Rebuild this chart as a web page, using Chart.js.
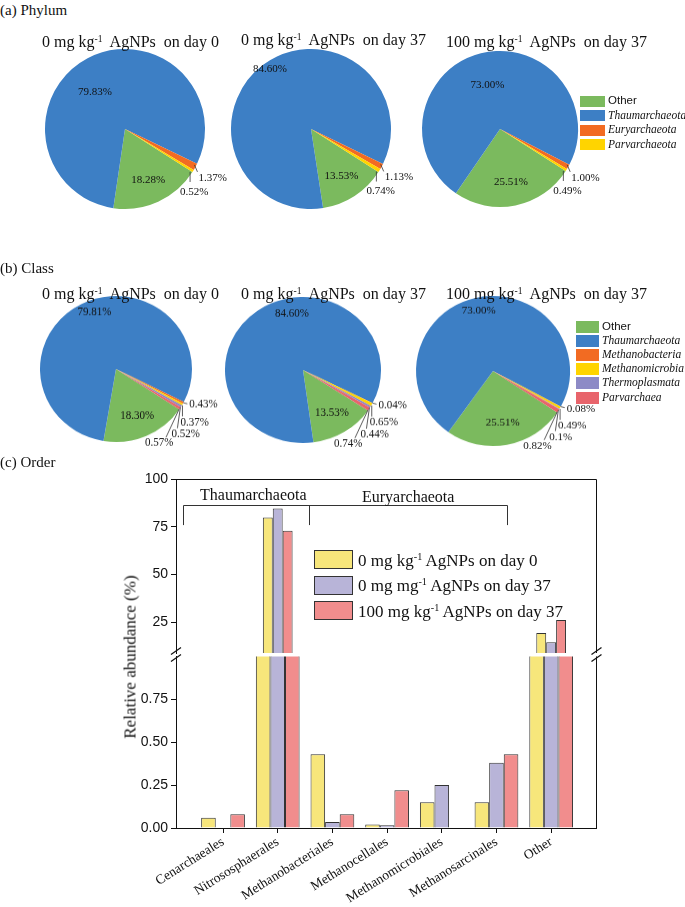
<!DOCTYPE html>
<html>
<head>
<meta charset="utf-8">
<script src="https://cdn.jsdelivr.net/npm/chart.js@4.4.1/dist/chart.umd.min.js"></script>
<style>
html,body{margin:0;padding:0;background:#fff;}
#fig{position:relative;width:685px;height:907px;overflow:hidden;font-family:"Liberation Serif","Times New Roman",serif;color:#111;}
#fig canvas{position:absolute;}
.t{position:absolute;white-space:pre;line-height:1;}
.sec{font-size:15px;}
.ttl{font-size:16px;}
.ttl sup,.blab sup{font-size:0.6em;vertical-align:0;position:relative;top:-0.55em;}
.box{position:absolute;box-sizing:border-box;}
.plab{position:absolute;white-space:nowrap;font-size:11.5px;font-style:italic;line-height:1;}
.plab.sans{font-family:"Liberation Sans",Arial,sans-serif;font-style:normal;}
.blab{position:absolute;white-space:pre;font-size:17px;line-height:1;}
</style>
</head>
<body>
<div id="fig">
  <canvas id="p1"></canvas><canvas id="p2"></canvas><canvas id="p3"></canvas>
  <canvas id="c1"></canvas><canvas id="c2"></canvas><canvas id="c3"></canvas>

  <div class="t sec" style="left:0;top:3px;">(a) Phylum</div>
  <div class="t sec" style="left:0;top:261px;">(b) Class</div>
  <div class="t sec" style="left:0;top:455px;">(c) Order</div>

  <div class="t ttl" style="left:42px;top:34px;">0 mg kg<sup>-1</sup>  AgNPs  on day 0</div>
  <div class="t ttl" style="left:241px;top:32px;">0 mg kg<sup>-1</sup>  AgNPs  on day 37</div>
  <div class="t ttl" style="left:446px;top:34px;">100 mg kg<sup>-1</sup>  AgNPs  on day 37</div>

  <div class="t ttl" style="left:42px;top:286px;">0 mg kg<sup>-1</sup>  AgNPs  on day 0</div>
  <div class="t ttl" style="left:241px;top:286px;">0 mg kg<sup>-1</sup>  AgNPs  on day 37</div>
  <div class="t ttl" style="left:446px;top:286px;">100 mg kg<sup>-1</sup>  AgNPs  on day 37</div>

  <div id="legP"></div>
  <div id="legC"></div>

  <canvas id="barTop" width="510" height="202" style="left:100px;top:465px;"></canvas>
  <canvas id="barBot" width="510" height="267" style="left:100px;top:640px;"></canvas>

  <div class="t" style="left:200px;top:487px;font-size:16px;">Thaumarchaeota</div>
  <div class="t" style="left:362px;top:489px;font-size:16px;">Euryarchaeota</div>
  <div class="t" style="left:130px;top:657px;font-size:17px;transform:translate(-50%,-50%) rotate(-90deg);">Relative abundance (%)</div>
  <div id="legB"></div>
</div>
<script>
// ---------- data ----------
const phylumNames = ['Other', 'Thaumarchaeota', 'Euryarchaeota', 'Parvarchaeota'];
const phylumDay0 = ['18.28', '79.83', '1.37', '0.52'];
const phylumCtrl37 = ['13.53', '84.60', '1.13', '0.74'];
const phylumAg37 = ['25.51', '73.00', '1.00', '0.49'];

const classNames = ['Other', 'Thaumarchaeota', 'Methanobacteria', 'Methanomicrobia', 'Thermoplasmata', 'Parvarchaea'];
const classDay0 = ['18.30', '79.81', '0.43', '0.37', '0.52', '0.57'];
const classCtrl37 = ['13.53', '84.60', '0.04', '0.65', '0.44', '0.74'];
const classAg37 = ['25.51', '73.00', '0.08', '0.49', '0.1', '0.82'];

const orderCategories = ['Cenarchaeales', 'Nitrososphaerales', 'Methanobacteriales', 'Methanocellales', 'Methanomicrobiales', 'Methanosarcinales', 'Other'];
const orderDay0 = [0.06, 79.83, 0.43, 0.02, 0.15, 0.15, 19.4];
const orderCtrl37 = [0, 84.60, 0.035, 0.016, 0.25, 0.38, 14.6];
const orderAg37 = [0.08, 73.00, 0.08, 0.22, 0, 0.43, 26.3];
const orderSeries = ['0 mg kg<sup>-1</sup> AgNPs on day 0', '0 mg mg<sup>-1</sup> AgNPs on day 37', '100 mg kg<sup>-1</sup> AgNPs on day 37'];

const upperTicks = [25, 50, 75, 100];
const lowerTicks = [0, 0.25, 0.5, 0.75];

// ---------- styles ----------
const PIE_COLORS = ['#7bba5e', '#3d7fc5', '#f26b22', '#ffd400', '#8d8ac6', '#e8646b'];
const BAR_COLORS = ['#f7e67b', '#b8b4d8', '#f18d8d'];
const INK = '#111';

// ---------- pies ----------
const pieLabelPlugin = {
  id: 'pieLabels',
  afterDatasetsDraw(chart) {
    const cfg = chart.data.datasets[0].pieCfg;
    const sy = cfg.sy || 1;
    const ctx = chart.ctx;
    const meta = chart.getDatasetMeta(0);
    const text = (t, x, y, align) => {
      ctx.save();
      ctx.translate(x, y);
      ctx.scale(1, 1 / sy);
      ctx.textAlign = align;
      ctx.textBaseline = 'middle';
      ctx.fillText(t, 0, 0);
      ctx.restore();
    };
    ctx.save();
    ctx.font = '11px "Liberation Serif", serif';
    ctx.fillStyle = INK;
    ctx.strokeStyle = '#333';
    ctx.lineWidth = 0.8;
    meta.data.forEach((arc, i) => {
      const p = arc.getProps(['x', 'y', 'startAngle', 'endAngle', 'outerRadius'], true);
      const mid = (p.startAngle + p.endAngle) / 2;
      const txt = cfg.texts[i];
      if (i < 2) {
        const k = i === 0 ? 0.7 : cfg.blueK;
        const a = mid + (i === 1 ? cfg.blueShift * Math.PI / 180 : 0);
        text(txt, p.x + Math.cos(a) * p.outerRadius * k, p.y + Math.sin(a) * p.outerRadius * k, 'center');
      } else {
        const rx = p.x + Math.cos(mid) * p.outerRadius;
        const ry = p.y + Math.sin(mid) * p.outerRadius;
        const s = cfg.small[i - 2];
        ctx.beginPath();
        ctx.moveTo(rx + s[0], ry + s[1] / sy);
        ctx.lineTo(rx + s[2], ry + s[3] / sy);
        ctx.stroke();
        text(txt, rx + s[4], ry + s[5] / sy, 'left');
      }
    });
    ctx.restore();
  }
};

const phylumSmall = [[-1, -2, 2, 5, 3, 11], [-3, 1, -3, 11, -13, 21]];
const classSmall = [[0, 0, 4, 1, 6, 2], [0, 1, 0, 12, -2, 18], [-1, 1, -4, 22, -10, 28], [-1, 1, -14, 29, -35, 35]];

function pieChart(id, names, vals, cfg) {
  const el = document.getElementById(id);
  el.width = 240; el.height = 200;
  el.style.left = (cfg.cx - 120) + 'px';
  el.style.top = (cfg.cy - 100) + 'px';
  if (cfg.sy) el.style.transform = `scaleY(${cfg.sy})`;
  new Chart(el, {
    type: 'pie',
    data: {
      labels: names,
      datasets: [{
        data: vals.map(Number),
        backgroundColor: PIE_COLORS.slice(0, names.length),
        borderWidth: 0, hoverOffset: 0,
        pieCfg: Object.assign({ texts: vals.map(v => v + '%') }, cfg)
      }]
    },
    options: {
      responsive: false, animation: false, events: [],
      rotation: cfg.rotation, radius: cfg.r,
      layout: { padding: 0 },
      plugins: { legend: { display: false }, tooltip: { enabled: false } }
    },
    plugins: [pieLabelPlugin]
  });
}

pieChart('p1', phylumNames, phylumDay0, { cx: 125, cy: 129, r: 80, rotation: 122.6, blueK: 0.6, blueShift: -11, small: phylumSmall });
pieChart('p2', phylumNames, phylumCtrl37, { cx: 311, cy: 129, r: 80, rotation: 122.6, blueK: 0.91, blueShift: 2, small: phylumSmall });
pieChart('p3', phylumNames, phylumAg37, { cx: 500, cy: 129, r: 78, rotation: 122.6, blueK: 0.58, blueShift: -2, small: phylumSmall });
pieChart('c1', classNames, classDay0, { cx: 116, cy: 369, r: 76, sy: 0.96, rotation: 123.6, blueK: 0.83, blueShift: 7, small: classSmall });
pieChart('c2', classNames, classCtrl37, { cx: 303, cy: 370, r: 78, sy: 0.936, rotation: 123.6, blueK: 0.78, blueShift: 25, small: classSmall });
pieChart('c3', classNames, classAg37, { cx: 493, cy: 371, r: 77, sy: 0.974, rotation: 123.6, blueK: 0.82, blueShift: 0, small: classSmall });

function pieLegend(hostId, names, left, top, pitch, bw, bh) {
  const host = document.getElementById(hostId);
  names.forEach((n, i) => {
    const cy = top + i * pitch;
    const b = document.createElement('div');
    b.className = 'box';
    b.style.cssText = `left:${left}px;top:${cy - bh / 2}px;width:${bw}px;height:${bh}px;background:${PIE_COLORS[i]};`;
    host.appendChild(b);
    const l = document.createElement('div');
    l.className = 'plab' + (n === 'Other' ? ' sans' : '');
    l.style.left = (left + bw + 3) + 'px';
    l.style.top = (cy - 6) + 'px';
    l.textContent = n;
    host.appendChild(l);
  });
}
pieLegend('legP', phylumNames, 580, 101, 14.5, 25, 11);
pieLegend('legC', classNames, 576, 327, 14.1, 23, 12);

// ---------- bars ----------
const X_MIN = -0.86, X_MAX = 6.82, UP_MIN = 9, UP_MAX = 100;
const tickFont = { family: '"Liberation Sans", Arial, sans-serif', size: 14 };
const serifFont = { family: '"Liberation Serif", "Times New Roman", serif', size: 13.5 };

function barSets(keep) {
  return [orderDay0, orderCtrl37, orderAg37].map((vals, k) => ({
    data: vals.map((v, i) => ({ x: i, y: keep(v) ? v : null })),
    backgroundColor: BAR_COLORS[k], borderColor: '#333', borderWidth: 1,
    borderSkipped: 'start', categoryPercentage: 0.8, barPercentage: 1
  }));
}

function yAxis(min, max, ticks, fmt) {
  return {
    type: 'linear', min, max, bounds: 'data',
    afterBuildTicks: s => { s.ticks = ticks.map(v => ({ value: v })); },
    afterFit: s => { s.width = 76; },
    ticks: { font: tickFont, color: INK, padding: 3, callback: fmt },
    grid: { display: true, drawOnChartArea: false, drawTicks: true, tickLength: 5, color: INK },
    border: { display: true, color: INK, width: 1 }
  };
}

const frameTop = {
  id: 'frameTop',
  afterDraw(chart) {
    const { ctx, chartArea: a, scales: { x, y } } = chart;
    ctx.save();
    ctx.strokeStyle = INK; ctx.lineWidth = 1;
    ctx.beginPath();
    ctx.moveTo(a.left, a.top + 0.5); ctx.lineTo(a.right + 0.5, a.top + 0.5); ctx.lineTo(a.right + 0.5, a.bottom);
    ctx.stroke();
    const yh = Math.round(y.getPixelForValue(86.4)) + 0.5, yb = y.getPixelForValue(75.9);
    const xl = Math.round(x.getPixelForValue(-0.73)) + 0.5, xm = Math.round(x.getPixelForValue(1.58)) + 0.5, xr = Math.round(x.getPixelForValue(5.2)) + 0.5;
    ctx.strokeStyle = '#333';
    ctx.beginPath();
    ctx.moveTo(xl, yb); ctx.lineTo(xl, yh); ctx.lineTo(xr, yh); ctx.lineTo(xr, yb);
    ctx.moveTo(xm, yh); ctx.lineTo(xm, yb);
    ctx.stroke();
    ctx.restore();
  }
};
const frameBot = {
  id: 'frameBot',
  afterDraw(chart) {
    const { ctx, chartArea: a } = chart;
    ctx.save();
    ctx.strokeStyle = INK; ctx.lineWidth = 1;
    ctx.beginPath();
    ctx.moveTo(a.right + 0.5, a.top); ctx.lineTo(a.right + 0.5, a.bottom);
    ctx.stroke();
    ctx.lineWidth = 1.2;
    [a.left, a.right + 0.5].forEach(xx => {
      [a.top - 5.5, a.top + 1.5].forEach(yy => {
        ctx.beginPath();
        ctx.moveTo(xx - 5, yy + 3.5); ctx.lineTo(xx + 5, yy - 3.5);
        ctx.stroke();
      });
    });
    ctx.restore();
  }
};

new Chart(document.getElementById('barTop'), {
  type: 'bar',
  data: { datasets: barSets(v => v >= UP_MIN) },
  options: {
    responsive: false, animation: false, events: [],
    layout: { padding: { top: 14, bottom: 14, left: 0, right: 14 } },
    plugins: { legend: { display: false }, tooltip: { enabled: false } },
    scales: {
      x: { type: 'linear', min: X_MIN, max: X_MAX, bounds: 'data', offset: false, display: false, grid: { offset: false } },
      y: yAxis(UP_MIN, UP_MAX, upperTicks, v => String(v))
    }
  },
  plugins: [frameTop]
});

new Chart(document.getElementById('barBot'), {
  type: 'bar',
  data: { datasets: barSets(v => true) },
  options: {
    responsive: false, animation: false, events: [],
    layout: { padding: { top: 16.4, bottom: 0, left: 0, right: 14 } },
    plugins: { legend: { display: false }, tooltip: { enabled: false } },
    scales: {
      x: {
        type: 'linear', min: X_MIN, max: X_MAX, bounds: 'data', offset: false,
        afterBuildTicks: s => { s.ticks = orderCategories.map((_, i) => ({ value: i })); },
        afterFit: s => { s.height = 79; },
        ticks: { autoSkip: false, minRotation: 32, maxRotation: 32, font: serifFont, color: INK, padding: 1, callback: v => orderCategories[v] },
        grid: { display: true, drawOnChartArea: false, drawTicks: true, tickLength: 5, color: INK, offset: false },
        border: { display: true, color: INK, width: 1 }
      },
      y: yAxis(0, 1, lowerTicks, v => v.toFixed(2))
    }
  },
  plugins: [frameBot]
});

(function () {
  const host = document.getElementById('legB');
  orderSeries.forEach((txt, i) => {
    const top = 550 + i * 25.5;
    const b = document.createElement('div');
    b.className = 'box';
    b.style.cssText = `left:314px;top:${top}px;width:39px;height:19px;background:${BAR_COLORS[i]};border:1.2px solid #333;`;
    host.appendChild(b);
    const l = document.createElement('div');
    l.className = 'blab';
    l.style.left = '358px';
    l.style.top = (top + 1.5) + 'px';
    l.innerHTML = txt;
    host.appendChild(l);
  });
})();
</script>
</body>
</html>
